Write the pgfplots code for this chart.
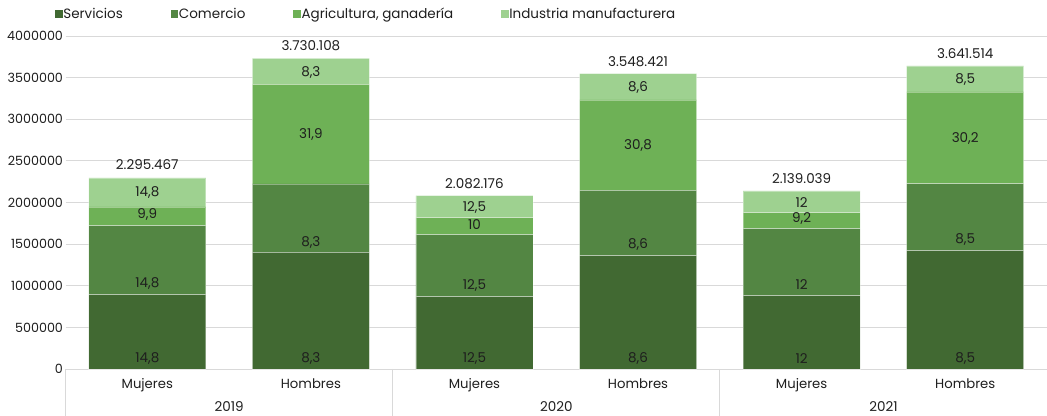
\documentclass[border=0pt]{standalone}
\usepackage{pgfplots}
\pgfplotsset{compat=1.18}
\usepackage{pgfplotstable}
\usepackage{fontspec}
\setmainfont{Poppins}
\definecolor{cServ}{RGB}{65,105,50}
\definecolor{cCom}{RGB}{83,134,67}
\definecolor{cAgr}{RGB}{110,177,86}
\definecolor{cInd}{RGB}{158,209,144}
\definecolor{cGrid}{RGB}{217,217,217}
\definecolor{cTxt}{RGB}{30,30,30}

\pgfplotstableread{
x serv com agr ind
0 892492 828829 224625 349521
1 1401401 820821 1197197 310689
2 868468 744745 204204 264759
3 1360961 785185 1085085 317190
4 880480 804805 192192 261562
5 1421021 804805 1101501 314187
}\bars

\pgfplotstableread{
x y label
0 128528 14,8
0 1029428 14,8
0 1861860 9,9
0 2122520 14,8
0 2450448 2.295.467
1 128528 8,3
1 1525524 8,3
1 2819216 31,9
1 3563960 8,3
1 3879876 3.730.108
2 128528 12,5
2 1005404 12,5
2 1738136 10
2 1942340 12,5
2 2230628 2.082.176
3 128528 8,6
3 1501500 8,6
3 2682280 30,8
3 3383780 8,6
3 3691288 3.548.421
4 128528 12
4 1017416 12
4 1805404 9,2
4 2002400 12
4 2290688 2.139.039
5 128528 8,5
5 1557956 8,5
5 2771168 30,2
5 3471468 8,5
5 3783780 3.641.514
}\labels

\begin{document}
\begin{tikzpicture}[font=\fontsize{13.5}{15}\selectfont]
\begin{axis}[name=ax, scale only axis, width=981.5pt, height=333pt,
  ybar stacked, bar width=117pt,
  xmin=-0.5, xmax=5.5, ymin=0, ymax=4000000,
  xtick={0,...,5},
  xticklabels={Mujeres,Hombres,Mujeres,Hombres,Mujeres,Hombres},
  x tick label style={yshift=-6pt, text=cTxt, font=\fontsize{13.2}{15}\selectfont},
  major tick length=0pt,
  ytick={0,500000,...,4000000},
  scaled y ticks=false,
  yticklabel style={/pgf/number format/fixed, /pgf/number format/1000 sep={}, text=cTxt, xshift=1pt, font=\fontsize{12.7}{15}\selectfont},
  /pgf/number format/assume math mode=true,
  ymajorgrids, grid style={cGrid, line width=0.9pt},
  separate axis lines,
  axis x line*=bottom,
  x axis line style={cGrid, line width=0.9pt, -},
  y axis line style={draw=none},
  clip=false,
  legend columns=4,
  legend style={at={(-0.0108,1.066)}, anchor=west, draw=none, fill=none,
    inner xsep=0pt, inner ysep=0pt,
    nodes={inner xsep=0.8pt, inner ysep=0pt, text=cTxt},
    /tikz/every even column/.append style={column sep=47pt}},
  legend image code/.code={\fill[#1, draw=none] (0pt,-3.8pt) rectangle (7.5pt,3.8pt);},
  every axis plot/.append style={draw=white, draw opacity=0.35, line width=0.6pt},
]
\addplot[fill=cServ] table[x=x, y=serv] \bars;
\addplot[fill=cCom] table[x=x, y=com] \bars;
\addplot[fill=cAgr] table[x=x, y=agr] \bars;
\addplot[fill=cInd] table[x=x, y=ind] \bars;
\legend{Servicios, Comercio, {Agricultura, ganadería}, Industria manufacturera}
\draw[cGrid, line width=0.9pt] (axis cs:-0.5,0) -- ([yshift=-47pt]axis cs:-0.5,0);
\draw[cGrid, line width=0.9pt] (axis cs:1.5,0) -- ([yshift=-47pt]axis cs:1.5,0);
\draw[cGrid, line width=0.9pt] (axis cs:3.5,0) -- ([yshift=-47pt]axis cs:3.5,0);
\draw[cGrid, line width=0.9pt] (axis cs:5.5,0) -- ([yshift=-47pt]axis cs:5.5,0);
\node[text=cTxt, inner sep=0pt] at ([yshift=-37.5pt]axis cs:0.5,0) {2019};
\node[text=cTxt, inner sep=0pt] at ([yshift=-37.5pt]axis cs:2.5,0) {2020};
\node[text=cTxt, inner sep=0pt] at ([yshift=-37.5pt]axis cs:4.5,0) {2021};
\end{axis}
\begin{axis}[scale only axis, width=981.5pt, height=333pt,
  xmin=-0.5, xmax=5.5, ymin=0, ymax=4000000, hide axis, clip=false]
\addplot[only marks, mark=none, nodes near coords, point meta=explicit symbolic,
  every node near coord/.style={anchor=center, text=cTxt, inner sep=0pt}]
  table[x=x, y=y, meta=label] \labels;
\end{axis}
\pgfresetboundingbox
\path ([xshift=-65.5pt,yshift=-47pt]ax.south west) rectangle ([yshift=36pt]ax.north east);
\end{tikzpicture}
\end{document}
